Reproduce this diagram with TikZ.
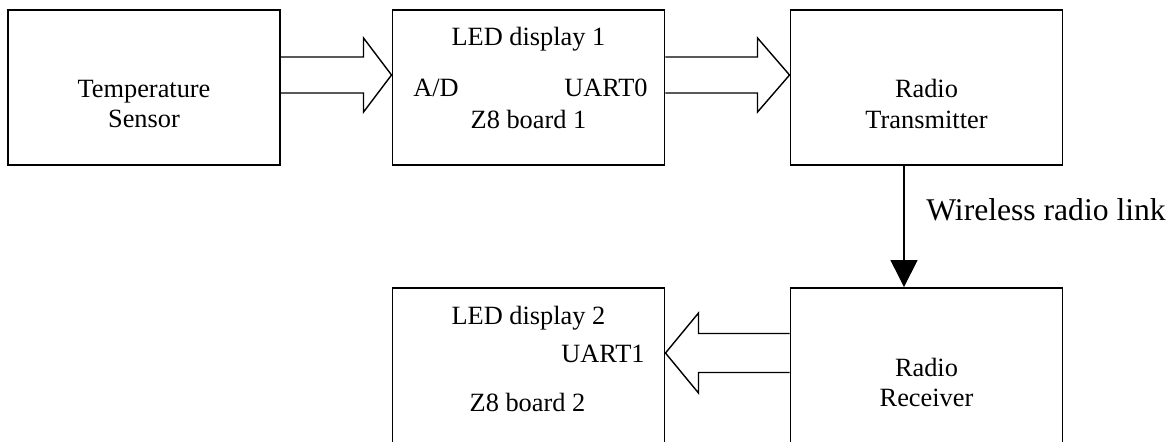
\documentclass[tikz,border=0pt]{standalone}
\usepackage{fontspec}
\setmainfont{Liberation Serif}
\usetikzlibrary{arrows.meta,calc,positioning}
\tikzset{
  block/.style={
    rectangle,
    draw=black,
    line width=1.1pt,
    minimum width=5.44cm,
    minimum height=3.1cm,
    inner sep=0pt
  },
  txt/.style={
    font=\fontsize{15}{17.6}\selectfont,
    align=center,
    inner sep=0pt
  },
  fat/.style={
    draw=black,
    line width=0.8pt,
    line join=miter
  },
  arrow/.style={
    -{Triangle[width=0.54cm,length=0.54cm]},
    line width=0.8pt
  }
}

\begin{document}
\begin{tikzpicture}
\useasboundingbox (0,0) rectangle (23.5,-8.82);

% Upper row
\node[block] (sensor) at (2.88,-1.75) {};
\node[block] (z8a) at (10.57,-1.75) {};
\node[block] (tx) at (18.53,-1.75) {};

% Lower row
\node[block] (z8b) at (10.57,-7.31) {};
\node[block] (rx) at (18.53,-7.31) {};

% Texts in the boxes
\node[txt] (sensortext) at (2.88,-2.08) {Temperature\\Sensor};
\node[txt] (txtext) at (18.53,-2.08) {Radio\\Transmitter};
\node[txt] (rxtext) at (18.53,-7.65) {Radio\\Receiver};
\node[txt, anchor=base] (led1) at (10.57,-0.9) {LED display 1};
\node[txt, anchor=base west] (ad) at (8.26,-1.92) {A/D};
\node[txt, anchor=base east] (uart0) at (12.96,-1.92) {UART0};
\node[txt, anchor=base] (board1) at (10.57,-2.56) {Z8 board 1};
\node[txt, anchor=base] (led2) at (10.57,-6.48) {LED display 2};
\node[txt, anchor=base east] (uart1) at (12.9,-7.24) {UART1};
\node[txt, anchor=base] (board2) at (10.55,-8.22) {Z8 board 2};

% Wide arrows
\coordinate (a1s) at ($(sensor.east)+(0,0.25)$);
\coordinate (a1e) at ($(z8a.west)+(0,0.25)$);
\draw[fat] ($(a1s)+(0,0.36)$) -- ($(a1e)+(-0.56,0.36)$) -- ($(a1e)+(-0.56,0.74)$) -- (a1e)
  -- ($(a1e)+(-0.56,-0.74)$) -- ($(a1e)+(-0.56,-0.36)$) -- ($(a1s)+(0,-0.36)$);

\coordinate (a2s) at ($(z8a.east)+(0,0.25)$);
\coordinate (a2e) at ($(tx.west)+(0,0.25)$);
\draw[fat] ($(a2s)+(0,0.36)$) -- ($(a2e)+(-0.64,0.36)$) -- ($(a2e)+(-0.64,0.74)$) -- (a2e)
  -- ($(a2e)+(-0.64,-0.74)$) -- ($(a2e)+(-0.64,-0.36)$) -- ($(a2s)+(0,-0.36)$);

\coordinate (a3s) at ($(rx.west)+(0,0.25)$);
\coordinate (a3e) at ($(z8b.east)+(0,0.25)$);
\draw[fat] ($(a3s)+(0,0.39)$) -- ($(a3e)+(0.66,0.39)$) -- ($(a3e)+(0.66,0.8)$) -- (a3e)
  -- ($(a3e)+(0.66,-0.8)$) -- ($(a3e)+(0.66,-0.39)$) -- ($(a3s)+(0,-0.39)$);

% Radio link
\coordinate (txout) at ($(tx.south)+(-0.45,0)$);
\coordinate (rxin) at ($(rx.north)+(-0.45,0)$);
\draw[arrow] (txout) -- (rxin);
\node[anchor=base west, inner sep=0pt, font=\fontsize{18}{21}\selectfont] (link) at (18.52,-4.4) {Wireless radio link};

\end{tikzpicture}
\end{document}
